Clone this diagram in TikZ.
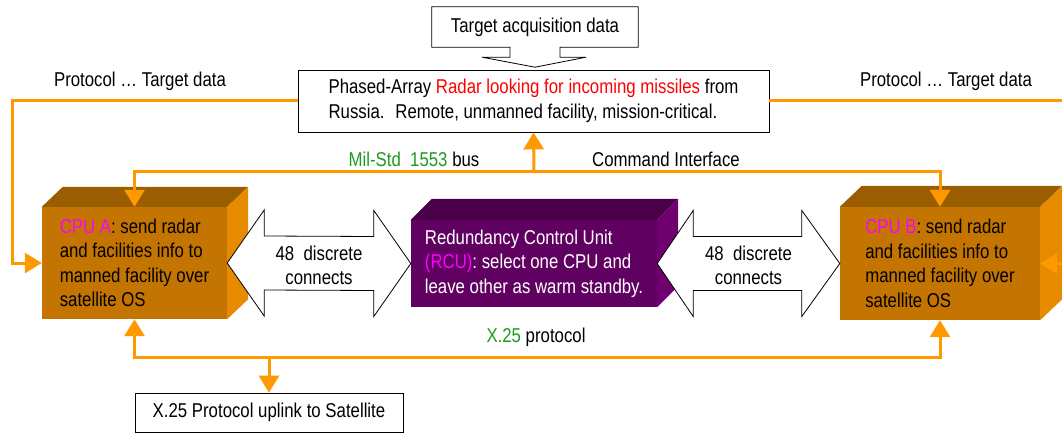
\documentclass[tikz,border=0pt]{standalone}
\usepackage{fontspec}
\setmainfont{Liberation Sans}[FakeStretch=0.84]
\usetikzlibrary{arrows.meta,calc}
\definecolor{lineorange}{HTML}{FF9900}
\definecolor{cpufront}{HTML}{C47400}
\definecolor{cputop}{HTML}{9A5E00}
\definecolor{cpuside}{HTML}{E68A00}
\definecolor{rcufront}{HTML}{600060}
\definecolor{rcutop}{HTML}{4A0048}
\definecolor{rcuside}{HTML}{700070}
\definecolor{magtext}{HTML}{FF00FF}
\definecolor{greentext}{HTML}{1E9A1E}
\definecolor{redtext}{HTML}{FF0000}
\tikzset{
  wire/.style={draw=lineorange, line width=3pt, -{Triangle[width=20pt,length=17pt]}},
  plainbox/.style={draw=black, line width=0.8pt, fill=white, inner sep=0pt},
  cpuface/.style={fill=cpufront, align=left, inner sep=0pt, text=black},
  rcuface/.style={fill=rcufront, align=left, inner sep=0pt, text=white},
  fatarrow/.style={draw=black, line width=0.8pt, fill=white},
  lbl/.style={inner sep=0pt, align=center},
}
\begin{document}
\begin{tikzpicture}[x=1pt,y=-1pt,font=\fontsize{20}{24.5}\selectfont]
\useasboundingbox (0,0) rectangle (1062,433);

% Target acquisition callout
\node[lbl, minimum width=206pt, minimum height=40pt] (tgt) at (535,27) {Target acquisition data};
\draw[line width=0.8pt] (tgt.north west) -- (tgt.north east) -- (tgt.south east)
  -- ($(tgt.south)+(25,0)$) -- ($(tgt.south)+(25,10)$) -- ($(tgt.south)+(51,10)$)
  -- ($(tgt.south)+(0,20)$) -- ($(tgt.south)+(-53,10)$) -- ($(tgt.south)+(-25,10)$)
  -- ($(tgt.south)+(-25,0)$) -- (tgt.south west) -- cycle;

% Radar box
\node[plainbox, minimum width=471pt, minimum height=62pt, align=left] (radar) at (533.5,101)
  {Phased-Array \textcolor{redtext}{Radar looking for incoming missiles} from\\Russia.~ Remote, unmanned facility, mission-critical.};

% CPU A
\node[cpuface, minimum width=185pt, minimum height=112pt] (cpua) at (134.5,263)
  {\textcolor{magtext}{CPU A}: send radar\\and facilities info to\\manned facility over\\satellite OS};
\fill[cputop] (cpua.north west) -- (cpua.north east) -- ($(cpua.north east)+(21,-20)$) -- ($(cpua.north west)+(21,-20)$) -- cycle;
\fill[cpuside] (cpua.north east) -- ($(cpua.north east)+(21,-20)$) -- ($(cpua.south east)+(21,-20)$) -- (cpua.south east) -- cycle;

% RCU
\node[rcuface, minimum width=246pt, minimum height=87pt] (rcu) at (534,263.5)
  {Redundancy Control Unit\\\textcolor{magtext}{(RCU)}: select one CPU and\\leave other as warm standby.};
\fill[rcutop] (rcu.north west) -- (rcu.north east) -- ($(rcu.north east)+(21,-21)$) -- ($(rcu.north west)+(21,-21)$) -- cycle;
\fill[rcuside] (rcu.north east) -- ($(rcu.north east)+(21,-21)$) -- ($(rcu.south east)+(21,-21)$) -- (rcu.south east) -- cycle;

% CPU B
\node[cpuface, minimum width=200pt, minimum height=113pt] (cpub) at (940,263.5)
  {\textcolor{magtext}{CPU B}: send radar\\and facilities info to\\manned facility over\\satellite OS};
\fill[cputop] (cpub.north west) -- (cpub.north east) -- ($(cpub.north east)+(22,-21)$) -- ($(cpub.north west)+(22,-21)$) -- cycle;
\fill[cpuside] (cpub.north east) -- ($(cpub.north east)+(22,-21)$) -- ($(cpub.south east)+(22,-21)$) -- (cpub.south east) -- cycle;

% Satellite uplink box
\node[plainbox, minimum width=268pt, minimum height=39pt] (sat) at (269,412.5) {X.25 Protocol uplink to Satellite};

% Fat double arrows
\draw[fatarrow] (cpua.east) -- ($(cpua.east)+(37,-53)$) -- ($(cpua.east)+(37,-27)$)
  -- ($(rcu.west)+(-37,-27)$) -- ($(rcu.west)+(-37,-53)$) -- (rcu.west)
  -- ($(rcu.west)+(-37,53)$) -- ($(rcu.west)+(-37,27)$)
  -- ($(cpua.east)+(37,27)$) -- ($(cpua.east)+(37,53)$) -- cycle;
\node[lbl] (dca) at ($(cpua.east)!0.5!(rcu.west)+(0,2)$) {48~ discrete\\connects};
\draw[fatarrow] (rcu.east) -- ($(rcu.east)+(36,-53)$) -- ($(rcu.east)+(36,-27)$)
  -- ($(cpub.west)+(-38,-27)$) -- ($(cpub.west)+(-38,-53)$) -- (cpub.west)
  -- ($(cpub.west)+(-38,53)$) -- ($(cpub.west)+(-38,27)$)
  -- ($(rcu.east)+(36,27)$) -- ($(rcu.east)+(36,53)$) -- cycle;
\node[lbl] (dcb) at ($(rcu.east)!0.5!(cpub.west)+(0,2)$) {48~ discrete\\connects};

% Orange connectors
\coordinate (lc) at (12,263);
\coordinate (rc) at (1080,263.5);
\draw[wire] (radar.west) -| (lc) -- (cpua.west);
\draw[wire] (radar.east) -| (rc) -- (cpub.east);

\coordinate (bus) at (534,171);
\draw[wire] (bus) -- (radar.south);
\draw[wire] (bus) -| (cpua.north);
\draw[wire] (bus) -| (cpub.north);

\coordinate (x25) at (269,357);
\draw[wire] (x25) -- (sat.north);
\draw[wire] (x25) -| (cpua.south);
\draw[wire] (x25) -| (cpub.south);

% Labels
\node[lbl] (ptl) at (140,81) {Protocol … Target data};
\node[lbl] (ptr) at (946,81) {Protocol … Target data};
\node[lbl] (milstd) at (414,159) {\textcolor{greentext}{Mil-Std~ 1553} bus};
\node[lbl] (cmdif) at (666,159) {Command Interface};
\node[lbl] (x25lbl) at (536,337) {\textcolor{greentext}{X.25} protocol};
\end{tikzpicture}
\end{document}
